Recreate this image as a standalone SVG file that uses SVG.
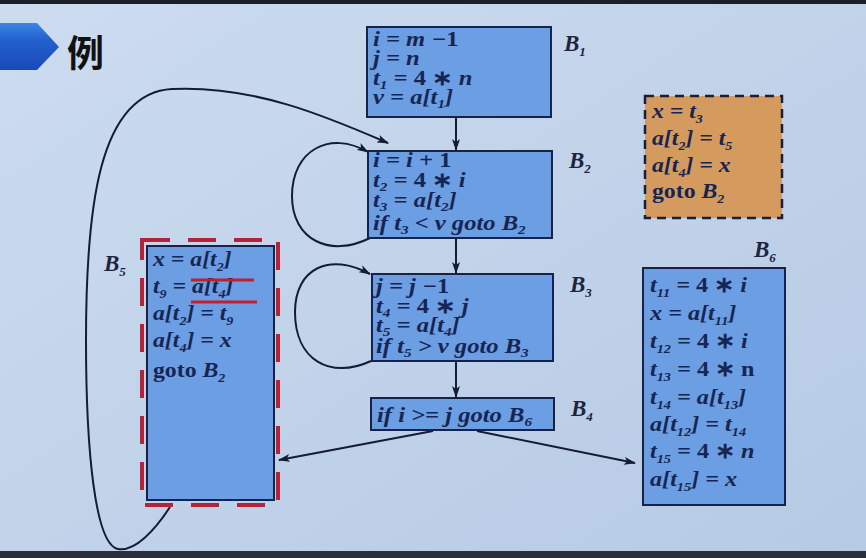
<svg xmlns="http://www.w3.org/2000/svg" width="866" height="558" viewBox="0 0 866 558">
  <defs>
    <linearGradient id="bg" x1="0" y1="0" x2="1" y2="1">
      <stop offset="0" stop-color="#cddcef"/>
      <stop offset="1" stop-color="#b6cae4"/>
    </linearGradient>
    <linearGradient id="tab" x1="0" y1="0" x2="0" y2="1">
      <stop offset="0" stop-color="#3d86e6"/>
      <stop offset="0.35" stop-color="#2361cf"/>
      <stop offset="1" stop-color="#1a4ab8"/>
    </linearGradient>
    <marker id="arr" viewBox="0 0 12 8" refX="11" refY="4" markerWidth="12" markerHeight="8" markerUnits="userSpaceOnUse" orient="auto">
      <path d="M0,0 L12,4 L0,8 L3,4 Z" fill="#141c34"/>
    </marker>
    <style>
      .box { fill: #6b9ee2; stroke: #16224a; stroke-width: 2; }
      .c { font-family: "Liberation Serif", serif; font-weight: bold; font-style: italic; font-size: 21px; fill: #172552; }
      .big { font-size: 22px; }
      .u { font-style: normal; }
      .s { font-size: 13px; }
      .lbl { font-family: "Liberation Serif", serif; font-style: italic; font-weight: bold; font-size: 23px; fill: #1d2440; }
      .edge { fill: none; stroke: #141c34; stroke-width: 2; }
    </style>
  </defs>

  <!-- backdrop -->
  <rect width="866" height="558" fill="url(#bg)"/>
  <rect width="866" height="4" fill="#1b1f2a"/>
  <rect y="551" width="866" height="7" fill="#2a2f3a"/>

  <!-- heading -->
  <g id="title">
    <path d="M0,23 L37,23 L59,47 L37,70 L0,70 Z" fill="url(#tab)"/>
    <text x="67" y="67" font-family="Noto Sans CJK SC, sans-serif" font-weight="bold" font-size="37" fill="#111">例</text>
  </g>

  <!-- connectors -->
  <g id="connectors">
    <line class="edge" x1="456" y1="117" x2="456" y2="150" marker-end="url(#arr)"/>
    <line class="edge" x1="456" y1="238" x2="456" y2="273" marker-end="url(#arr)"/>
    <line class="edge" x1="456" y1="361" x2="456" y2="397" marker-end="url(#arr)"/>
    <path class="edge" d="M370,238 C330,258 292,240 292,196 C292,150 330,130 368,152" marker-end="url(#arr)"/>
    <path class="edge" d="M371,361 C330,380 295,360 295,312 C295,268 330,252 370,274" marker-end="url(#arr)"/>
    <path class="edge" d="M170,507 C155,530 135,552 118,549 C95,545 86,450 86,340 C86,210 98,93 172,89 C255,85 330,118 388,143" marker-end="url(#arr)"/>
    <line class="edge" x1="433" y1="431" x2="279" y2="460" marker-end="url(#arr)"/>
    <line class="edge" x1="477" y1="431" x2="635" y2="463" marker-end="url(#arr)"/>
  </g>

  <!-- B1 -->
  <g id="B1">
    <rect class="box" x="367" y="27" width="184" height="90"/>
    <g transform="translate(373 0) scale(1.17 1) translate(-373 0)">
      <text class="c" x="373" y="46">i = m −<tspan class="u">1</tspan></text>
      <text class="c" x="373" y="65">j = n</text>
      <text class="c" x="373" y="85">t<tspan class="s" dy="4">1</tspan><tspan dy="-4"> = </tspan><tspan class="u">4 ∗</tspan> n</text>
      <text class="c" x="373" y="104">v = a[t<tspan class="s" dy="4">1</tspan><tspan dy="-4">]</tspan></text>
    </g>
    <text class="lbl" x="564" y="51">B<tspan class="s" dy="5">1</tspan></text>
  </g>

  <!-- B2 -->
  <g id="B2">
    <rect class="box" x="368" y="151" width="184" height="87"/>
    <g transform="translate(373 0) scale(1.17 1) translate(-373 0)">
      <text class="c" x="373" y="167">i = i + <tspan class="u">1</tspan></text>
      <text class="c" x="373" y="187">t<tspan class="s" dy="4">2</tspan><tspan dy="-4"> = </tspan><tspan class="u">4 ∗</tspan> i</text>
      <text class="c" x="373" y="207">t<tspan class="s" dy="4">3</tspan><tspan dy="-4"> = a[t</tspan><tspan class="s" dy="4">2</tspan><tspan dy="-4">]</tspan></text>
      <text class="c" x="373" y="230">if t<tspan class="s" dy="4">3</tspan><tspan dy="-4"> &lt; v goto B</tspan><tspan class="s" dy="4">2</tspan></text>
    </g>
    <text class="lbl" x="569" y="168">B<tspan class="s" dy="5">2</tspan></text>
  </g>

  <!-- B3 -->
  <g id="B3">
    <rect class="box" x="372" y="274" width="181" height="87"/>
    <g transform="translate(376 0) scale(1.17 1) translate(-376 0)">
      <text class="c" x="376" y="293">j = j −<tspan class="u">1</tspan></text>
      <text class="c" x="376" y="313">t<tspan class="s" dy="4">4</tspan><tspan dy="-4"> = </tspan><tspan class="u">4 ∗</tspan> j</text>
      <text class="c" x="376" y="332">t<tspan class="s" dy="4">5</tspan><tspan dy="-4"> = a[t</tspan><tspan class="s" dy="4">4</tspan><tspan dy="-4">]</tspan></text>
      <text class="c" x="376" y="353">if t<tspan class="s" dy="4">5</tspan><tspan dy="-4"> &gt; v goto B</tspan><tspan class="s" dy="4">3</tspan></text>
    </g>
    <text class="lbl" x="570" y="292">B<tspan class="s" dy="5">3</tspan></text>
  </g>

  <!-- B4 -->
  <g id="B4">
    <rect class="box" x="371" y="398" width="183" height="32"/>
    <g transform="translate(377 0) scale(1.17 1) translate(-377 0)">
      <text class="c" x="377" y="422">if i &gt;= j goto B<tspan class="s" dy="4">6</tspan></text>
    </g>
    <text class="lbl" x="571" y="416">B<tspan class="s" dy="5">4</tspan></text>
  </g>

  <!-- B5 -->
  <g id="B5">
    <rect class="box" x="147" y="246" width="127" height="254"/>
    <rect x="142" y="240" width="136" height="265" fill="none" stroke="#b3243a" stroke-width="4" stroke-dasharray="28 18"/>
    <g transform="translate(153 0) scale(1.08 1) translate(-153 0)">
      <text class="c big" x="153" y="266">x = a[t<tspan class="s" dy="5">2</tspan><tspan dy="-5">]</tspan></text>
      <text class="c big" x="153" y="293">t<tspan class="s" dy="5">9</tspan><tspan dy="-5"> = a[t</tspan><tspan class="s" dy="5">4</tspan><tspan dy="-5">]</tspan></text>
      <text class="c big" x="153" y="320">a[t<tspan class="s" dy="5">2</tspan><tspan dy="-5">] = t</tspan><tspan class="s" dy="5">9</tspan></text>
      <text class="c big" x="153" y="347">a[t<tspan class="s" dy="5">4</tspan><tspan dy="-5">] = x</tspan></text>
      <text class="c big" x="153" y="377"><tspan class="u">goto</tspan> B<tspan class="s" dy="5">2</tspan></text>
    </g>
    <line x1="191" y1="280" x2="254" y2="280" stroke="#c0202a" stroke-width="3"/>
    <line x1="191" y1="302" x2="257" y2="302" stroke="#c0202a" stroke-width="3"/>
    <text class="lbl" x="104" y="271">B<tspan class="s" dy="5">5</tspan></text>
  </g>

  <!-- rewritten B5, shown beside -->
  <g id="B5r">
    <rect x="645" y="96" width="137" height="122" fill="#d59b5e" stroke="#1a1f35" stroke-width="2.5" stroke-dasharray="9 6"/>
    <g transform="translate(652 0) scale(1.08 1) translate(-652 0)">
      <text class="c big" x="652" y="118">x = t<tspan class="s" dy="5">3</tspan></text>
      <text class="c big" x="652" y="145">a[t<tspan class="s" dy="5">2</tspan><tspan dy="-5">] = t</tspan><tspan class="s" dy="5">5</tspan></text>
      <text class="c big" x="652" y="172">a[t<tspan class="s" dy="5">4</tspan><tspan dy="-5">] = x</tspan></text>
      <text class="c big" x="652" y="198"><tspan class="u">goto</tspan> B<tspan class="s" dy="5">2</tspan></text>
    </g>
  </g>

  <!-- B6 -->
  <g id="B6">
    <rect class="box" x="643" y="268" width="142" height="237"/>
    <g transform="translate(650 0) scale(1.1 1) translate(-650 0)">
      <text class="c big" x="650" y="292">t<tspan class="s" dy="5">11</tspan><tspan dy="-5"> = </tspan><tspan class="u">4 ∗</tspan> i</text>
      <text class="c big" x="650" y="320">x = a[t<tspan class="s" dy="5">11</tspan><tspan dy="-5">]</tspan></text>
      <text class="c big" x="650" y="348">t<tspan class="s" dy="5">12</tspan><tspan dy="-5"> = </tspan><tspan class="u">4 ∗</tspan> i</text>
      <text class="c big" x="650" y="376">t<tspan class="s" dy="5">13</tspan><tspan dy="-5"> = </tspan><tspan class="u">4 ∗ n</tspan></text>
      <text class="c big" x="650" y="404">t<tspan class="s" dy="5">14</tspan><tspan dy="-5"> = a[t</tspan><tspan class="s" dy="5">13</tspan><tspan dy="-5">]</tspan></text>
      <text class="c big" x="650" y="431">a[t<tspan class="s" dy="5">12</tspan><tspan dy="-5">] = t</tspan><tspan class="s" dy="5">14</tspan></text>
      <text class="c big" x="650" y="458">t<tspan class="s" dy="5">15</tspan><tspan dy="-5"> = </tspan><tspan class="u">4 ∗</tspan> n</text>
      <text class="c big" x="650" y="486">a[t<tspan class="s" dy="5">15</tspan><tspan dy="-5">] = x</tspan></text>
    </g>
    <text class="lbl" x="754" y="257">B<tspan class="s" dy="5">6</tspan></text>
  </g>
</svg>
